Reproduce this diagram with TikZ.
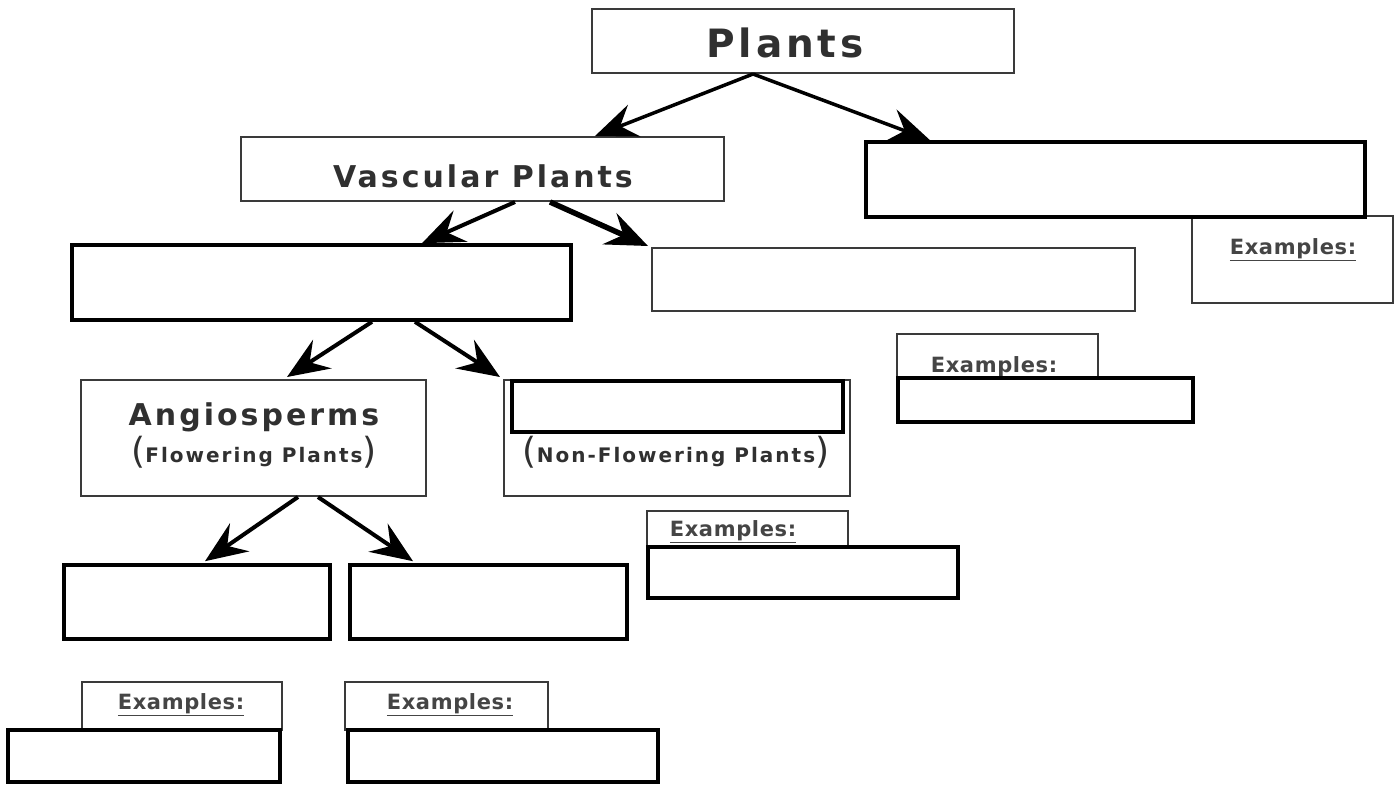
\documentclass[tikz,border=0pt]{standalone}
\usepackage{fontspec}
\setmainfont{DejaVu Sans}
\newfontfamily\trackfont[LetterSpace=10]{DejaVu Sans Bold}
\newfontfamily\parenfont{DejaVu Sans}
\newfontfamily\exfont[LetterSpace=3]{DejaVu Sans Bold}
\usetikzlibrary{arrows.meta}
\definecolor{txt}{HTML}{303030}
\definecolor{thinline}{HTML}{3A3A3A}
\tikzset{
  thinbox/.style={draw=thinline, line width=2pt, fill=white, inner sep=0pt},
  thickbox/.style={draw=black, line width=3.6pt, fill=white, inner sep=0pt},
  lbl/.style={text=txt, inner sep=0pt, anchor=base},
  exlbl/.style={text=txt!90, inner sep=0pt, anchor=base, font=\exfont\fontsize{21}{24}\selectfont},
  arr/.style={line width=4pt, -{Stealth[length=42pt,width=34pt,inset=15pt]}},
}
\newcommand{\bigparen}[1]{{\parenfont\fontsize{36}{38}\selectfont\raisebox{-1pt}{#1}}}
\begin{document}
\begin{tikzpicture}[x=1pt,y=-1pt]
\useasboundingbox[fill=white] (0,0) rectangle (1399,785);

% top
\node[thinbox, minimum width=422pt, minimum height=64pt] (plants) at (803,41) {};
\node[lbl, font=\trackfont\fontsize{39}{44}\selectfont] (plantsT) at (785,57) {Plants};

\node[thinbox, minimum width=483pt, minimum height=64pt] (vasc) at (482.5,169) {};
\node[lbl, font=\trackfont\fontsize{30}{34}\selectfont] (vascT) at (483,187) {Vascular Plants};

% right examples (behind)
\node[thinbox, minimum width=201pt, minimum height=87pt] (exR) at (1292.5,259.5) {};
\node[exlbl] (exRT) at (1293,254) {\underline{Examples:}};
\node[thickbox, minimum width=499pt, minimum height=75pt] (topright) at (1115.5,179.5) {};

% second level
\node[thickbox, minimum width=499pt, minimum height=75pt] (seed) at (321.5,282.5) {};
\node[thinbox, minimum width=483pt, minimum height=63pt] (seedless) at (893.5,279.5) {};

\node[thinbox, minimum width=201pt, minimum height=44pt] (exM) at (997.5,356) {};
\node[exlbl] (exMT) at (994,372) {Examples:};
\node[thickbox, minimum width=295pt, minimum height=44pt] (exMbox) at (1045.5,400) {};

% angiosperms
\node[thinbox, minimum width=345pt, minimum height=116pt] (angio) at (253.5,438) {};
\node[lbl, font=\trackfont\fontsize{30}{34}\selectfont] (angioT) at (254,425) {Angiosperms};
\node[lbl, font=\trackfont\fontsize{20}{22}\selectfont] (angioS) at (254,462) {\bigparen{(}Flowering Plants\bigparen{)}};

% gymnosperms
\node[thinbox, minimum width=346pt, minimum height=116pt] (gymno) at (677,438) {};
\node[thickbox, minimum width=331pt, minimum height=51pt] (gymnoIn) at (677.5,406.5) {};
\node[lbl, font=\trackfont\fontsize{20}{22}\selectfont] (gymnoS) at (676,462) {\bigparen{(}Non-Flowering Plants\bigparen{)}};

\node[thinbox, minimum width=201pt, minimum height=36pt] (exG) at (747.5,529) {};
\node[exlbl] (exGT) at (733,536) {\underline{Examples:}};
\node[thickbox, minimum width=310pt, minimum height=51pt] (exGbox) at (803,572.5) {};

% monocot / dicot
\node[thickbox, minimum width=266pt, minimum height=74pt] (mono) at (197,602) {};
\node[thickbox, minimum width=277pt, minimum height=74pt] (dicot) at (488.5,602) {};

\node[thinbox, minimum width=200pt, minimum height=48pt] (ex1) at (182,706) {};
\node[exlbl] (ex1T) at (181,709) {\underline{Examples:}};
\node[thickbox, minimum width=272pt, minimum height=52pt] (ex1box) at (144,756) {};

\node[thinbox, minimum width=203pt, minimum height=48pt] (ex2) at (446.5,706) {};
\node[exlbl] (ex2T) at (450,709) {\underline{Examples:}};
\node[thickbox, minimum width=310pt, minimum height=52pt] (ex2box) at (503,756) {};

% arrows
\draw[arr, line width=3.5pt] ([xshift=-50pt]plants.south) -- ([xshift=112.5pt]vasc.north);
\draw[arr, line width=3.5pt] ([xshift=-50pt]plants.south) -- ([xshift=-185.5pt]topright.north);
\draw[arr] ([xshift=32.5pt]vasc.south) -- ([xshift=100.5pt]seed.north);
\draw[arr, line width=5.5pt] ([xshift=67.5pt]vasc.south) -- ([xshift=-245.5pt,yshift=1pt]seedless.north);
\draw[arr] ([xshift=50.5pt]seed.south) -- ([xshift=33.5pt,yshift=2pt]angio.north);
\draw[arr] ([xshift=93.5pt]seed.south) -- ([xshift=-177pt,yshift=2pt]gymno.north);
\draw[arr] ([xshift=44.5pt]angio.south) -- ([xshift=8pt,yshift=2pt]mono.north);
\draw[arr] ([xshift=64.5pt]angio.south) -- ([xshift=-75.5pt,yshift=2pt]dicot.north);
\end{tikzpicture}
\end{document}
